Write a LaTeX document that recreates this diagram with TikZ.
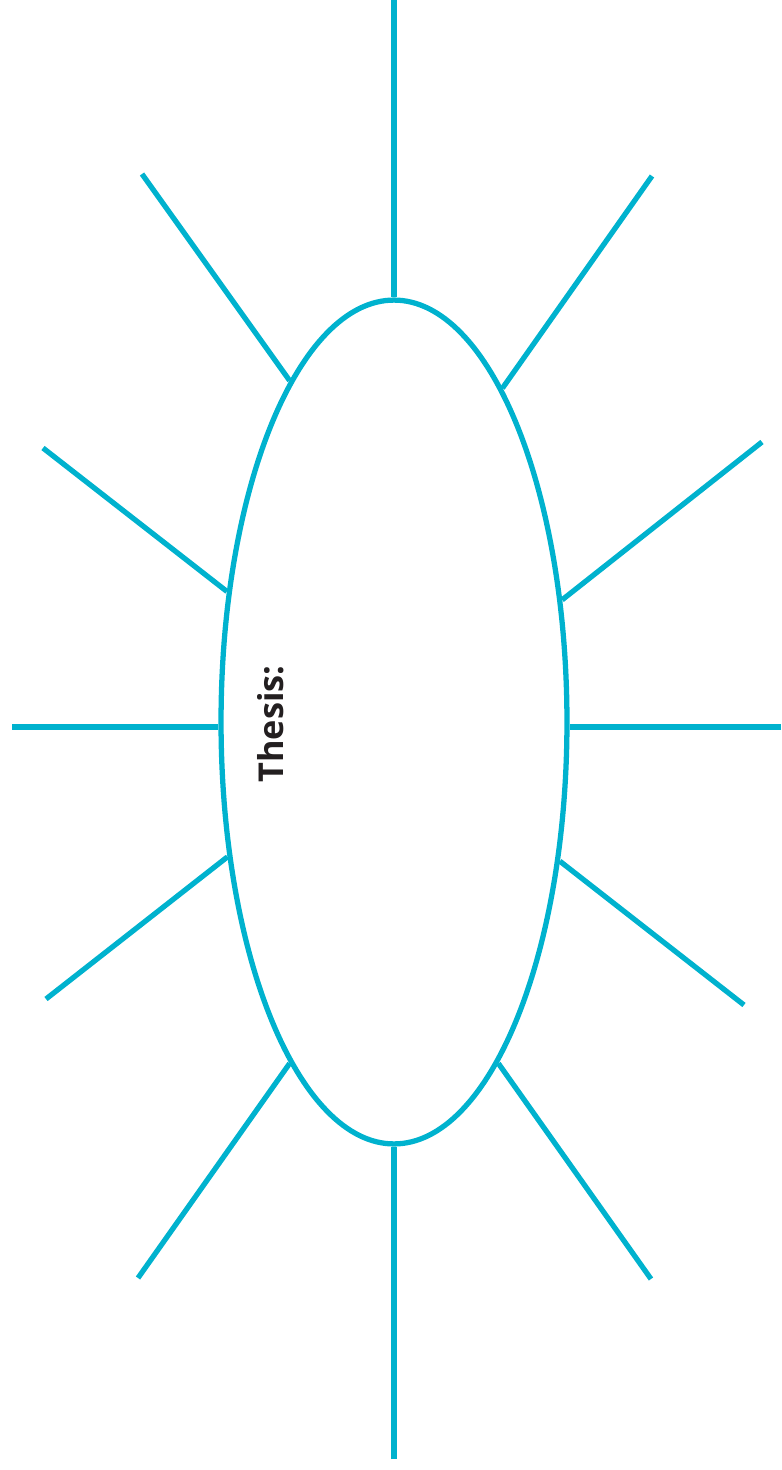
\documentclass[tikz,border=0pt]{standalone}
\usepackage{fontspec}
\setsansfont{Open Sans}
\usepackage{tikz}
\usetikzlibrary{shapes.geometric, calc}
\definecolor{Teal}{HTML}{00B2CE}
\definecolor{Ink} {HTML}{231F20}
\tikzset{
  oval/.style={draw=Teal, ellipse, line width=3pt, inner sep=0pt,
               minimum width=6.92cm, minimum height=16.88cm},
  spoke/.style={draw=Teal, line width=3pt},
  lbl/.style={font=\sffamily\bfseries\fontsize{19.5}{22}\selectfont, text=Ink, rotate=90}
}
\begin{document}
\begin{tikzpicture}[x=0.02cm, y=-0.02cm]
  \useasboundingbox (0,0) rectangle (781,1470);
  \node[oval] (thesis) at (394,722) {};
  \node[lbl] (title) at (271,724) {Thesis:};
  % outer ends of the spokes
  \coordinate (top) at (394,0);      \coordinate (bot) at (394,1459);
  \coordinate (lft) at (12,727);     \coordinate (rgt) at (781,727);
  \coordinate (ulA) at (142,174);    \coordinate (ulB) at (43,448);
  \coordinate (llA) at (46,999);     \coordinate (llB) at (138,1278);
  \coordinate (urA) at (652,176);    \coordinate (urB) at (762,442);
  \coordinate (lrA) at (744,1005);   \coordinate (lrB) at (651,1279);
  \draw[spoke] (top)--(thesis.north); \draw[spoke] (bot)--(thesis.south);
  \draw[spoke] (lft)--(lft -| thesis.west); \draw[spoke] (rgt)--(rgt -| thesis.east);
  \draw[spoke] (ulA)--(thesis.107.1); \draw[spoke] (ulB)--(thesis.142.4);
  \draw[spoke] (llA)--(thesis.219.3); \draw[spoke] (llB)--(thesis.253);
  \draw[spoke] (urA)--(thesis.72);    \draw[spoke] (urB)--(thesis.36.2);
  \draw[spoke] (lrA)--(thesis.320.5); \draw[spoke] (lrB)--(thesis.287.1);
\end{tikzpicture}
\end{document}
